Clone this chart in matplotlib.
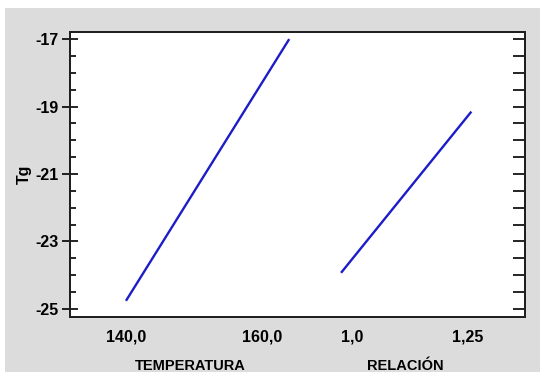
import matplotlib.pyplot as plt
from matplotlib.patches import Rectangle
from matplotlib.ticker import MultipleLocator

# Efectos principales para Tg
temp_levels = [140.0, 164.0]
tg_temp = [-24.76, -17.0]
temp_ticks = [140.0, 160.0]
temp_ticklabels = ["140,0", "160,0"]

rel_levels = [0.976, 1.259]
tg_rel = [-23.93, -19.15]
rel_ticks = [1.0, 1.25]
rel_ticklabels = ["1,0", "1,25"]

factor_names = ["TEMPERATURA", "RELACIÓN"]


def to_axis(values, lo, hi, start, stop):
    """Lleva los niveles de un factor a su tramo del eje x (0..1)."""
    return [start + (v - lo) / (hi - lo) * (stop - start) for v in values]


# tramo de cada factor: (valor bajo, valor alto, pos. bajo, pos. alto)
temp_scale = (140.0, 160.0, 0.123, 0.422)
rel_scale = (1.0, 1.25, 0.620, 0.873)

plt.rcParams['font.family'] = ['Liberation Sans', 'DejaVu Sans']

fig = plt.figure(figsize=(5.4, 3.72), dpi=100)
fig.patch.set_facecolor('white')
fig.patches.append(Rectangle((5 / 540, 0), 1, (372 - 8) / 372,
                             transform=fig.transFigure, facecolor='#dcdcdc',
                             edgecolor='none', zorder=-10))

ax = fig.add_axes([70 / 540, 1 - 317 / 372, 455 / 540, 285 / 372])
ax.set_facecolor('white')

line_color = '#1c1cc8'
ax.plot(to_axis(temp_levels, *temp_scale), tg_temp, color=line_color, lw=1.7,
        solid_capstyle='butt')
ax.plot(to_axis(rel_levels, *rel_scale), tg_rel, color=line_color, lw=1.7,
        solid_capstyle='butt')

ax.set_xlim(0, 1)
ax.set_ylim(-25.24, -16.79)

# marcas del lado derecho (eje gemelo, sin etiquetas)
ax_r = ax.twinx()
ax_r.set_ylim(ax.get_ylim())
ax_r.yaxis.set_major_locator(MultipleLocator(0.5))
ax_r.tick_params(axis='y', which='major', direction='in', length=9,
                 width=1.2, labelright=False)

xt = to_axis(temp_ticks, *temp_scale) + to_axis(rel_ticks, *rel_scale)
ax.set_xticks(xt)
ax.set_xticklabels(temp_ticklabels + rel_ticklabels, fontsize=11.5,
                   fontweight='bold')
ax.tick_params(axis='x', length=0, pad=9)

ax.yaxis.set_minor_locator(MultipleLocator(0.5))
ax.set_yticks([-25, -23, -21, -19, -17])
ax.set_yticklabels(["-25", "-23", "-21", "-19", "-17"], fontsize=11.5,
                   fontweight='bold')
ax.tick_params(axis='y', which='major', direction='inout', length=12,
               width=1.2, pad=2)
ax.tick_params(axis='y', which='minor', direction='in', length=4, width=1.2)

for a in (ax, ax_r):
    for s in a.spines.values():
        s.set_linewidth(1.4)
        s.set_color('#202020')

ax.set_ylabel("Tg", fontsize=11.5, fontweight='bold', labelpad=3)

fig.text(190 / 540, 1 - 366 / 372, factor_names[0], fontsize=10.5,
         fontweight='bold', ha='center', va='center')
fig.text(405 / 540, 1 - 366 / 372, factor_names[1], fontsize=10.5,
         fontweight='bold', ha='center', va='center')

fig.savefig('out.png', dpi=100)
